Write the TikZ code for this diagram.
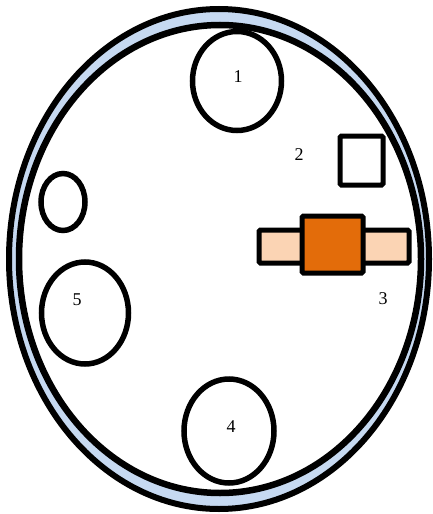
\documentclass[tikz,border=0pt]{standalone}
\usepackage{fontspec}
\setmainfont{Liberation Serif}
\usetikzlibrary{shapes.geometric, positioning, calc}

\definecolor{rimblue}{HTML}{C6D9F1}
\definecolor{bodyorange}{HTML}{E36C0A}
\definecolor{padorange}{HTML}{FBD4B4}

\begin{document}
\begin{tikzpicture}[
        x=1pt, y=-1pt,
        font=\fontsize{18}{20}\selectfont,
        % styles of the parts
        rim/.style={ellipse, draw=black, line width=6pt, inner sep=0pt},
        hole/.style={ellipse, draw=black, line width=5.5pt, fill=white, inner sep=0pt},
        box/.style={rectangle, draw=black, line width=5pt, rounded corners=1.5pt, inner sep=0pt},
        tag/.style={inner sep=0pt}
    ]
    \useasboundingbox (0,0) rectangle (433,514);

    % --- 1. RIM ---
    \node[rim, fill=rimblue, minimum width=420pt, minimum height=500pt] (outer) at (219,259) {};
    \node[rim, fill=white, line width=6.5pt, minimum width=402pt, minimum height=468pt] (inner) at (220,259) {};

    % --- 2. HOLES ---
    \node[hole, minimum width=89pt, minimum height=99pt] (hole1) at (237,81) {};
    \node[hole, minimum width=44pt, minimum height=57pt] (hole0) at (63,202) {};
    \node[hole, minimum width=87pt, minimum height=102pt] (hole5) at (85,313) {};
    \node[hole, minimum width=90pt, minimum height=104pt] (hole4) at (229,431) {};

    % --- 3. PARTS ---
    \node[box, fill=white, minimum width=43pt, minimum height=49pt] (part2) at (361.5,160.5) {};
    \node[box, fill=padorange, minimum width=150pt, minimum height=33pt] (pads) at (334,246.5) {};
    \node[box, fill=bodyorange, minimum width=61pt, minimum height=57pt] (body) at (332.5,244.5) {};

    % --- 4. LABELS ---
    \node[tag] (lab1) at (238,77) {1};
    \node[tag] (lab2) at (299,155) {2};
    \node[tag] (lab3) at (383,299) {3};
    \node[tag] (lab4) at (231,427) {4};
    \node[tag] (lab5) at (77,300) {5};

\end{tikzpicture}
\end{document}
